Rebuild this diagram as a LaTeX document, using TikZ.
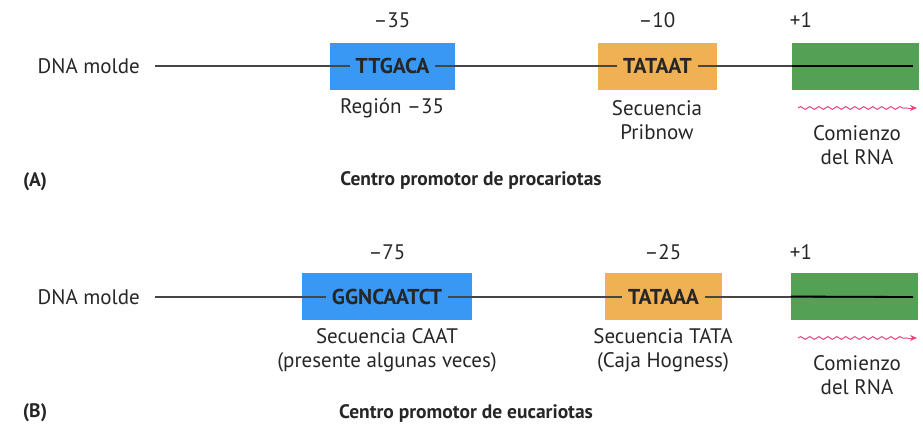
\documentclass[tikz,border=0pt]{standalone}
\usepackage{fontspec}
\setmainfont{PT Sans}
\usetikzlibrary{decorations.pathmorphing,arrows.meta}
\definecolor{boxblue}{RGB}{58,152,245}
\definecolor{boxorange}{RGB}{240,176,84}
\definecolor{boxgreen}{RGB}{84,160,84}
\definecolor{rnapink}{RGB}{228,70,125}
\definecolor{dnagray}{RGB}{70,70,70}
\tikzset{
  lbl/.style={font=\fontsize{21}{24}\selectfont, inner sep=0pt, text=black!85},
  captiontext/.style={font=\bfseries\fontsize{19.5}{22}\selectfont, inner sep=0pt, text=black!85},
  seqbox/.style={draw=none, minimum height=47pt, inner sep=0pt},
  seqtext/.style={font=\fontsize{21.5}{24}\selectfont\bfseries, inner xsep=6pt, inner ysep=2pt, text=black!85},
  dna/.style={dnagray, line width=1.3pt},
  dnadark/.style={black, line width=1.8pt},
  rna/.style={rnapink, line width=1pt, decorate,
    decoration={snake, amplitude=1.4pt, segment length=9pt, post length=2pt}},
  rnatip/.style={rnapink, line width=1pt, -{Stealth[length=7pt,width=6pt]}},
}
\begin{document}
\begin{tikzpicture}[x=1pt,y=-1pt]
\useasboundingbox (0,0) rectangle (923,426);
% ---------- (A) ----------
\node[lbl, anchor=east] (dnaA) at (140,66) {DNA molde};
\node[seqbox, fill=boxblue, minimum width=125pt] (bA1) at (392.5,66) {};
\node[seqbox, fill=boxorange, minimum width=119pt] (bA2) at (657.5,66) {};
\node[seqbox, fill=boxgreen, minimum width=127pt] (gA) at (855.5,66) {};
\coordinate (a0) at (155,66);
\coordinate (a1) at (913,66);
\draw[dna] (a0) -- (a1);
\draw[dnadark] (gA.west) -- (a1);
\node[seqtext, fill=boxblue] (tA1) at (bA1.center) {TTGACA};
\node[seqtext, fill=boxorange] (tA2) at (bA2.center) {TATAAT};
\node[lbl] (nA1) at (392,20) {–35};
\node[lbl] (nA2) at (657,20) {–10};
\node[lbl] (nA3) at (801,20) {+1};
\node[lbl] (rA1) at (392,108) {Región –35};
\node[lbl, align=center] (rA2) at (657,120) {Secuencia\\Pribnow};
\coordinate (wA0) at (798,108);
\coordinate (wAm) at (908,108);
\coordinate (wA1) at (917,108);
\draw[rna] (wA0) -- (wAm);
\draw[rnatip] (wAm) -- (wA1);
\node[lbl, align=center] (rA3) at (857,145) {Comienzo\\del RNA};
\node[captiontext] (A) at (35,182) {(A)};
\node[captiontext] (capA) at (471,180) {Centro promotor de procariotas};
% ---------- (B) ----------
\node[lbl, anchor=east] (dnaB) at (140,297) {DNA molde};
\node[seqbox, fill=boxblue, minimum width=170pt] (bB1) at (387,296.5) {};
\node[seqbox, fill=boxorange, minimum width=117pt] (bB2) at (663.5,296.5) {};
\node[seqbox, fill=boxgreen, minimum width=127pt] (gB) at (854.5,296.5) {};
\coordinate (b0) at (155,297);
\coordinate (b1) at (913,297);
\draw[dna] (b0) -- (b1);
\draw[dnadark] (gB.west) -- (b1);
\node[seqtext, fill=boxblue] (tB1) at (bB1.center) {GGNCAATCT};
\node[seqtext, fill=boxorange] (tB2) at (bB2.center) {TATAAA};
\node[lbl] (nB1) at (387,252) {–75};
\node[lbl] (nB2) at (663,252) {–25};
\node[lbl] (nB3) at (801,252) {+1};
\node[lbl, align=center] (rB1) at (387,350) {Secuencia CAAT\\(presente algunas veces)};
\node[lbl, align=center] (rB2) at (663,350) {Secuencia TATA\\(Caja Hogness)};
\coordinate (wB0) at (798,338);
\coordinate (wBm) at (908,338);
\coordinate (wB1) at (917,338);
\draw[rna] (wB0) -- (wBm);
\draw[rnatip] (wBm) -- (wB1);
\node[lbl, align=center] (rB3) at (857,375) {Comienzo\\del RNA};
\node[captiontext] (B) at (35,413) {(B)};
\node[captiontext] (capB) at (466,413) {Centro promotor de eucariotas};
\end{tikzpicture}
\end{document}
